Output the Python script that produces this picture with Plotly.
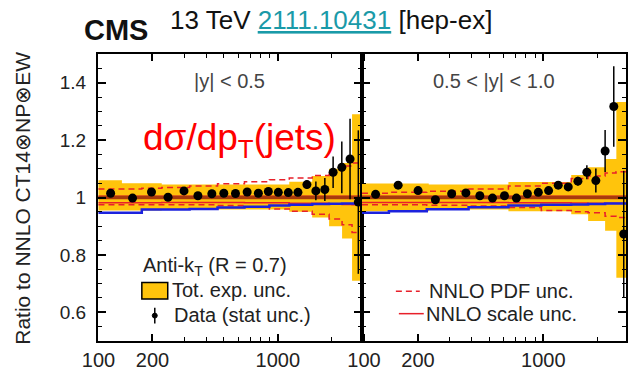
import plotly.graph_objects as go
import math

# ---------------- data ----------------
# Left panel |y| < 0.5 : data points
pt_L = [116.9, 154.9, 197.5, 244.3, 299.8, 358.5, 428.7, 500, 580.7, 674.5, 779,
        885.6, 1006, 1144, 1295, 1453, 1630, 1829, 2034, 2274, 2528, 2811]
ratio_L = [1.015, 0.998, 1.019, 1.001, 1.023, 1.006, 1.013, 1.015, 1.014, 1.019, 1.015,
           1.021, 1.018, 1.017, 1.018, 1.045, 1.023, 1.028, 1.088, 1.105, 1.134, 0.984]
stat_L = [0.003, 0.003, 0.003, 0.003, 0.003, 0.003, 0.003, 0.003, 0.004, 0.004, 0.004,
          0.005, 0.006, 0.008, 0.010, 0.015, 0.033, 0.040, 0.055, 0.090, 0.140, 0.250]

# Right panel 0.5 < |y| < 1.0 : data points
pt_R = [116.1, 155.1, 200.3, 250.1, 308.3, 370.1, 442.7, 520.8, 607.3, 707.9, 815,
        937.9, 1070, 1211, 1377, 1559, 1749, 1963, 2211, 2471, 2808]
ratio_R = [1.011, 1.043, 1.024, 0.992, 1.013, 1.016, 1.006, 0.998, 1.006, 0.998, 1.013,
           1.018, 1.024, 1.043, 1.037, 1.057, 1.088, 1.059, 1.162, 1.317, 0.873]
stat_R = [0.003, 0.003, 0.003, 0.003, 0.003, 0.003, 0.003, 0.004, 0.004, 0.004, 0.005,
          0.006, 0.008, 0.010, 0.012, 0.015, 0.024, 0.042, 0.073, 0.140, 0.220]

# Total experimental uncertainty band (step edges in GeV)
band_edges_L = [100, 135.1, 225.3, 1158.6, 1555, 1932, 2282, 2594, 2947]
band_up_L = [1.06, 1.05, 1.045, 1.055, 1.075, 1.10, 1.12, 1.29]
band_lo_L = [0.955, 0.955, 0.958, 0.95, 0.93, 0.90, 0.857, 0.71]

band_edges_R = [97.5, 229.7, 639, 1431, 1778, 2211, 2554, 2891]
band_up_R = [1.049, 1.045, 1.054, 1.078, 1.105, 1.134, 1.333]
band_lo_R = [0.952, 0.958, 0.952, 0.942, 0.918, 0.884, 0.72]

# Theory curves (step edges in GeV)
th_edges_L = [100, 135.1, 174.4, 225.3, 322.3, 461.2, 651.6, 897.1, 1158.6, 1555, 1932, 2282, 2594, 2947]
pdf_up_L = [1.03, 1.03, 1.032, 1.035, 1.04, 1.048, 1.055, 1.062, 1.068, 1.077, 1.094, 1.11, 1.12]
pdf_lo_L = [0.975, 0.975, 0.975, 0.975, 0.975, 0.972, 0.968, 0.96, 0.952, 0.942, 0.925, 0.905, 0.878]
scale_up_L = [1.004, 1.004, 1.004, 1.004, 1.004, 1.004, 1.004, 1.004, 1.004, 1.004, 1.004, 1.004, 1.004]
scale_lo_L = [0.982, 0.982, 0.982, 0.983, 0.983, 0.983, 0.982, 0.982, 0.98, 0.98, 0.978, 0.976, 0.975]
central_L = [1.0, 1.0, 1.0, 1.0, 1.0, 1.0, 1.0, 1.0, 1.0, 1.0, 1.0, 1.0, 1.0]
blue_L = [0.947, 0.947, 0.958, 0.958, 0.96, 0.965, 0.968, 0.972, 0.975, 0.977, 0.978, 0.979, 0.979]

th_edges_R = [97.5, 137.7, 223.9, 383.1, 639, 974.7, 1431, 1778, 2211, 2544, 2891]
pdf_up_R = [1.015, 1.018, 1.022, 1.03, 1.04, 1.05, 1.066, 1.075, 1.085, 1.09]
pdf_lo_R = [0.975, 0.975, 0.973, 0.97, 0.965, 0.955, 0.95, 0.947, 0.935, 0.93]
scale_up_R = [1.004, 1.004, 1.004, 1.004, 1.004, 1.004, 1.004, 1.004, 1.004, 1.004]
scale_lo_R = [0.983, 0.983, 0.983, 0.983, 0.982, 0.982, 0.981, 0.98, 0.98, 0.98]
central_R = [1.0, 1.0, 1.0, 1.0, 1.0, 1.0, 1.0, 1.0, 1.0, 1.0]
blue_R = [0.947, 0.952, 0.959, 0.966, 0.972, 0.975, 0.976, 0.977, 0.979, 0.979]

y_ticks = [0.6, 0.8, 1.0, 1.2, 1.4]
y_ticktext = ["0.6", "0.8", "1", "1.2", "1.4"]
x_ticks = [100, 200, 1000]
x_ticktext = ["100", "200", "1000"]
x_minor = [300, 400, 500, 600, 700, 800, 900, 2000, 3000]

# ---------------- style ----------------
FONT = "Liberation Sans, Arial, Helvetica, sans-serif"
YELLOW = "#ffc40c"
BROWN = "#a83a0c"
RED = "#e8202a"
BLUE = "#1c22dd"

fig = go.Figure()


def step(edges, vals):
    return list(edges), list(vals) + [vals[-1]]


def add_panel(xa, ya, bedges, bup, blo, tedges, pup, plo, sup, slo, cen, blu, pt, r, st):
    x, y = step(bedges, blo)
    fig.add_trace(go.Scatter(x=x, y=y, mode="lines", line=dict(width=0, shape="hv"),
                             xaxis=xa, yaxis=ya, showlegend=False, hoverinfo="skip"))
    x, y = step(bedges, bup)
    fig.add_trace(go.Scatter(x=x, y=y, mode="lines", line=dict(width=0, shape="hv"),
                             fill="tonexty", fillcolor=YELLOW,
                             xaxis=xa, yaxis=ya, showlegend=False, hoverinfo="skip"))
    for vals, dash, w, col in [(pup, "6px,4px", 1.5, RED), (plo, "6px,4px", 1.5, RED),
                               (sup, "solid", 1.5, RED), (slo, "solid", 1.5, RED),
                               (cen, "solid", 3.5, BROWN), (blu, "solid", 2.5, BLUE)]:
        x, y = step(tedges, vals)
        fig.add_trace(go.Scatter(x=x, y=y, mode="lines",
                                 line=dict(width=w, color=col, dash=dash, shape="hv"),
                                 xaxis=xa, yaxis=ya, showlegend=False, hoverinfo="skip"))
    fig.add_trace(go.Scatter(x=pt, y=r, mode="markers",
                             marker=dict(size=9, color="black"),
                             error_y=dict(type="data", array=st, color="black",
                                          thickness=1.5, width=0),
                             xaxis=xa, yaxis=ya, showlegend=False))


add_panel("x", "y", band_edges_L, band_up_L, band_lo_L, th_edges_L, pdf_up_L, pdf_lo_L,
          scale_up_L, scale_lo_L, central_L, blue_L, pt_L, ratio_L, stat_L)
add_panel("x2", "y2", band_edges_R, band_up_R, band_lo_R, th_edges_R, pdf_up_R, pdf_lo_R,
          scale_up_R, scale_lo_R, central_R, blue_R, pt_R, ratio_R, stat_R)

xcommon = dict(type="log", tickvals=x_ticks, ticktext=x_ticktext, ticks="inside",
               ticklen=7, tickwidth=1.5, tickcolor="black", showline=True, linewidth=2,
               linecolor="black", mirror="ticks", showgrid=False, zeroline=False,
               tickfont=dict(size=20, color="#222", family=FONT),
               minor=dict(tickvals=x_minor, ticks="inside", ticklen=4, tickwidth=1.2,
                          tickcolor="black", showgrid=False))
ycommon = dict(range=[0.5, 1.5], tickvals=y_ticks, ticktext=y_ticktext, ticks="inside",
               ticklen=8, tickwidth=1.5, tickcolor="black", showline=True, linewidth=2,
               linecolor="black", mirror="ticks", showgrid=False, zeroline=False,
               ticklabelstandoff=6,
               tickfont=dict(size=19, color="#222", family=FONT),
               minor=dict(dtick=0.05, tick0=0, ticks="inside", ticklen=4, tickwidth=1.2,
                          tickcolor="black", showgrid=False))

W, H = 629, 372
ML, MR, MT, MB = 98, 1, 54, 24
PW, PH = W - ML - MR, H - MT - MB


def px(xp):
    return (xp - ML) / PW


def py(yp):
    return (H - MB - yp) / PH


annotations = [
    dict(text="<b>CMS</b>", x=px(82), y=py(29), xanchor="left", yanchor="middle",
         font=dict(size=29, color="#111", family=FONT)),
    dict(text="13 TeV <span style='color:#1a9aa8'><u>2111.10431</u></span> [hep-ex]",
         x=px(168), y=py(19), xanchor="left", yanchor="middle",
         font=dict(size=26, color="#111", family=FONT)),
    dict(text="Ratio to NNLO CT14⊗NP⊗EW", textangle=-90, x=px(22), y=py(202),
         xanchor="center", yanchor="middle", font=dict(size=21, color="#222", family=FONT)),
    dict(text="|y| < 0.5", x=px(230), y=py(82), xanchor="center", yanchor="middle",
         font=dict(size=20, color="#444", family=FONT)),
    dict(text="0.5 < |y| < 1.0", x=px(495), y=py(82), xanchor="center", yanchor="middle",
         font=dict(size=20, color="#444", family=FONT)),
    dict(text="dσ/dp<sub>T</sub>(jets)", x=px(240), y=py(142), xanchor="center",
         yanchor="middle", font=dict(size=37, color="#ff0000", family=FONT)),
    dict(text="Anti-k<sub>T</sub> (R = 0.7)", x=px(141), y=py(272), xanchor="left",
         yanchor="middle", font=dict(size=20, color="#222", family=FONT)),
    dict(text="Tot. exp. unc.", x=px(170), y=py(296), xanchor="left", yanchor="middle",
         font=dict(size=20, color="#222", family=FONT)),
    dict(text="Data (stat unc.)", x=px(172), y=py(321), xanchor="left", yanchor="middle",
         font=dict(size=20, color="#222", family=FONT)),
    dict(text="NNLO PDF unc.", x=px(428), y=py(297), xanchor="left", yanchor="middle",
         font=dict(size=20, color="#222", family=FONT)),
    dict(text="NNLO scale unc.", x=px(425), y=py(320), xanchor="left", yanchor="middle",
         font=dict(size=20, color="#222", family=FONT)),
]
for a in annotations:
    a.update(xref="paper", yref="paper", showarrow=False)

shapes = [
    # legend key: yellow box
    dict(type="rect", x0=px(142), x1=px(168), y0=py(305), y1=py(288),
         fillcolor=YELLOW, line=dict(color="black", width=1.5)),
    # legend key: data marker with error bar
    dict(type="line", x0=px(155), x1=px(155), y0=py(330), y1=py(314),
         line=dict(color="black", width=1.5)),
    dict(type="circle", x0=px(152.5), x1=px(157.5), y0=py(324.5), y1=py(319.5),
         fillcolor="black", line=dict(color="black", width=1)),
    # legend key: PDF dashed
    dict(type="line", x0=px(397), x1=px(421), y0=py(297), y1=py(297),
         line=dict(color=RED, width=1.5, dash="6px,4px")),
    # legend key: scale solid
    dict(type="line", x0=px(400), x1=px(425), y0=py(320), y1=py(320),
         line=dict(color=RED, width=1.5)),
]
for s in shapes:
    s.update(xref="paper", yref="paper")

fig.update_layout(
    width=W, height=H, margin=dict(l=ML, r=MR, t=MT, b=MB, pad=0),
    paper_bgcolor="white", plot_bgcolor="white",
    font=dict(family=FONT),
    xaxis=dict(domain=[0, 0.5], anchor="y",
               range=[math.log10(99.4), math.log10(2947)], **xcommon),
    xaxis2=dict(domain=[0.5, 1], anchor="y2",
                range=[math.log10(97.5), math.log10(2891)], **xcommon),
    yaxis=dict(domain=[0, 1], anchor="x", **ycommon),
    yaxis2=dict(domain=[0, 1], anchor="x2", matches="y", showticklabels=False, **ycommon),
    annotations=annotations, shapes=shapes, showlegend=False,
)

fig.write_html("out.html", config={"displayModeBar": False},
               post_script="document.body.style.margin='0';document.body.style.overflow='hidden';")
